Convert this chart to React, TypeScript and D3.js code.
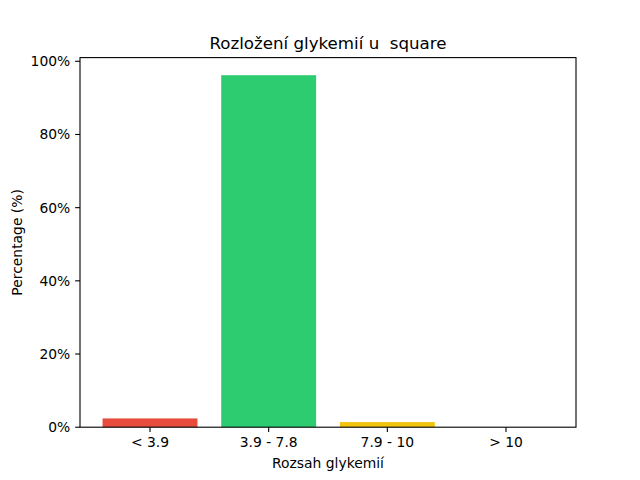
import React from 'react';
import * as d3 from 'd3';

const categories = ['< 3.9', '3.9 - 7.8', '7.9 - 10', '> 10'];
const percentages = [2.4, 96.2, 1.4, 0];
const barColors = ['#e74c3c', '#2ecc71', '#f1c40f', '#e67e22'];
const yTicks = [0, 20, 40, 60, 80, 100];

const width = 640;
const height = 480;
const margin = { left: 80, right: 64, top: 57.6, bottom: 52.8 };
const font = '"DejaVu Sans", sans-serif';

export default function App() {
  const innerW = width - margin.left - margin.right;
  const innerH = height - margin.top - margin.bottom;

  // matplotlib-like autoscale: 5% margins
  const xScale = d3.scaleLinear().domain([-0.59, 3.59]).range([0, innerW]);
  const yMax = (d3.max(percentages) || 0) * 1.05;
  const yScale = d3.scaleLinear().domain([0, yMax]).range([innerH, 0]);

  const barW = 0.8;
  const tickLen = 4.86;

  return (
    <div style={{ position: 'absolute', left: 0, top: 0 }}>
      <svg width={width} height={height} style={{ display: 'block', background: '#fff' }}>
        <text x={margin.left + innerW / 2} y={49} textAnchor="middle"
          fontFamily={font} fontSize={16.67} fill="#000" style={{ whiteSpace: 'pre' }}>
          {'Rozložení glykemií u  square'}
        </text>
        <g transform={`translate(${margin.left},${margin.top})`}>
          {percentages.map((p, i) => (
            <rect key={i}
              x={xScale(i - barW / 2)}
              y={yScale(p)}
              width={xScale(i + barW / 2) - xScale(i - barW / 2)}
              height={innerH - yScale(p)}
              fill={barColors[i]} />
          ))}
          <rect x={0} y={0} width={innerW} height={innerH}
            fill="none" stroke="#000" strokeWidth={1.1} />
          {yTicks.map(t => (
            <g key={t} transform={`translate(0,${yScale(t)})`}>
              <line x1={-tickLen} x2={0} stroke="#000" strokeWidth={1.1} />
              <text x={-tickLen - 4.86} dy="0.35em" textAnchor="end"
                fontFamily={font} fontSize={13.89} fill="#000">{t}%</text>
            </g>
          ))}
          {categories.map((c, i) => (
            <g key={c} transform={`translate(${xScale(i)},${innerH})`}>
              <line y1={0} y2={tickLen} stroke="#000" strokeWidth={1.1} />
              <text y={tickLen + 4.86} dy="0.76em" textAnchor="middle"
                fontFamily={font} fontSize={13.89} fill="#000">{c}</text>
            </g>
          ))}
          <text x={innerW / 2} y={innerH + 41} textAnchor="middle"
            fontFamily={font} fontSize={13.89} fill="#000">Rozsah glykemií</text>
          <text transform={`translate(${-58},${innerH / 2}) rotate(-90)`} textAnchor="middle"
            fontFamily={font} fontSize={13.89} fill="#000">Percentage (%)</text>
        </g>
      </svg>
    </div>
  );
}
